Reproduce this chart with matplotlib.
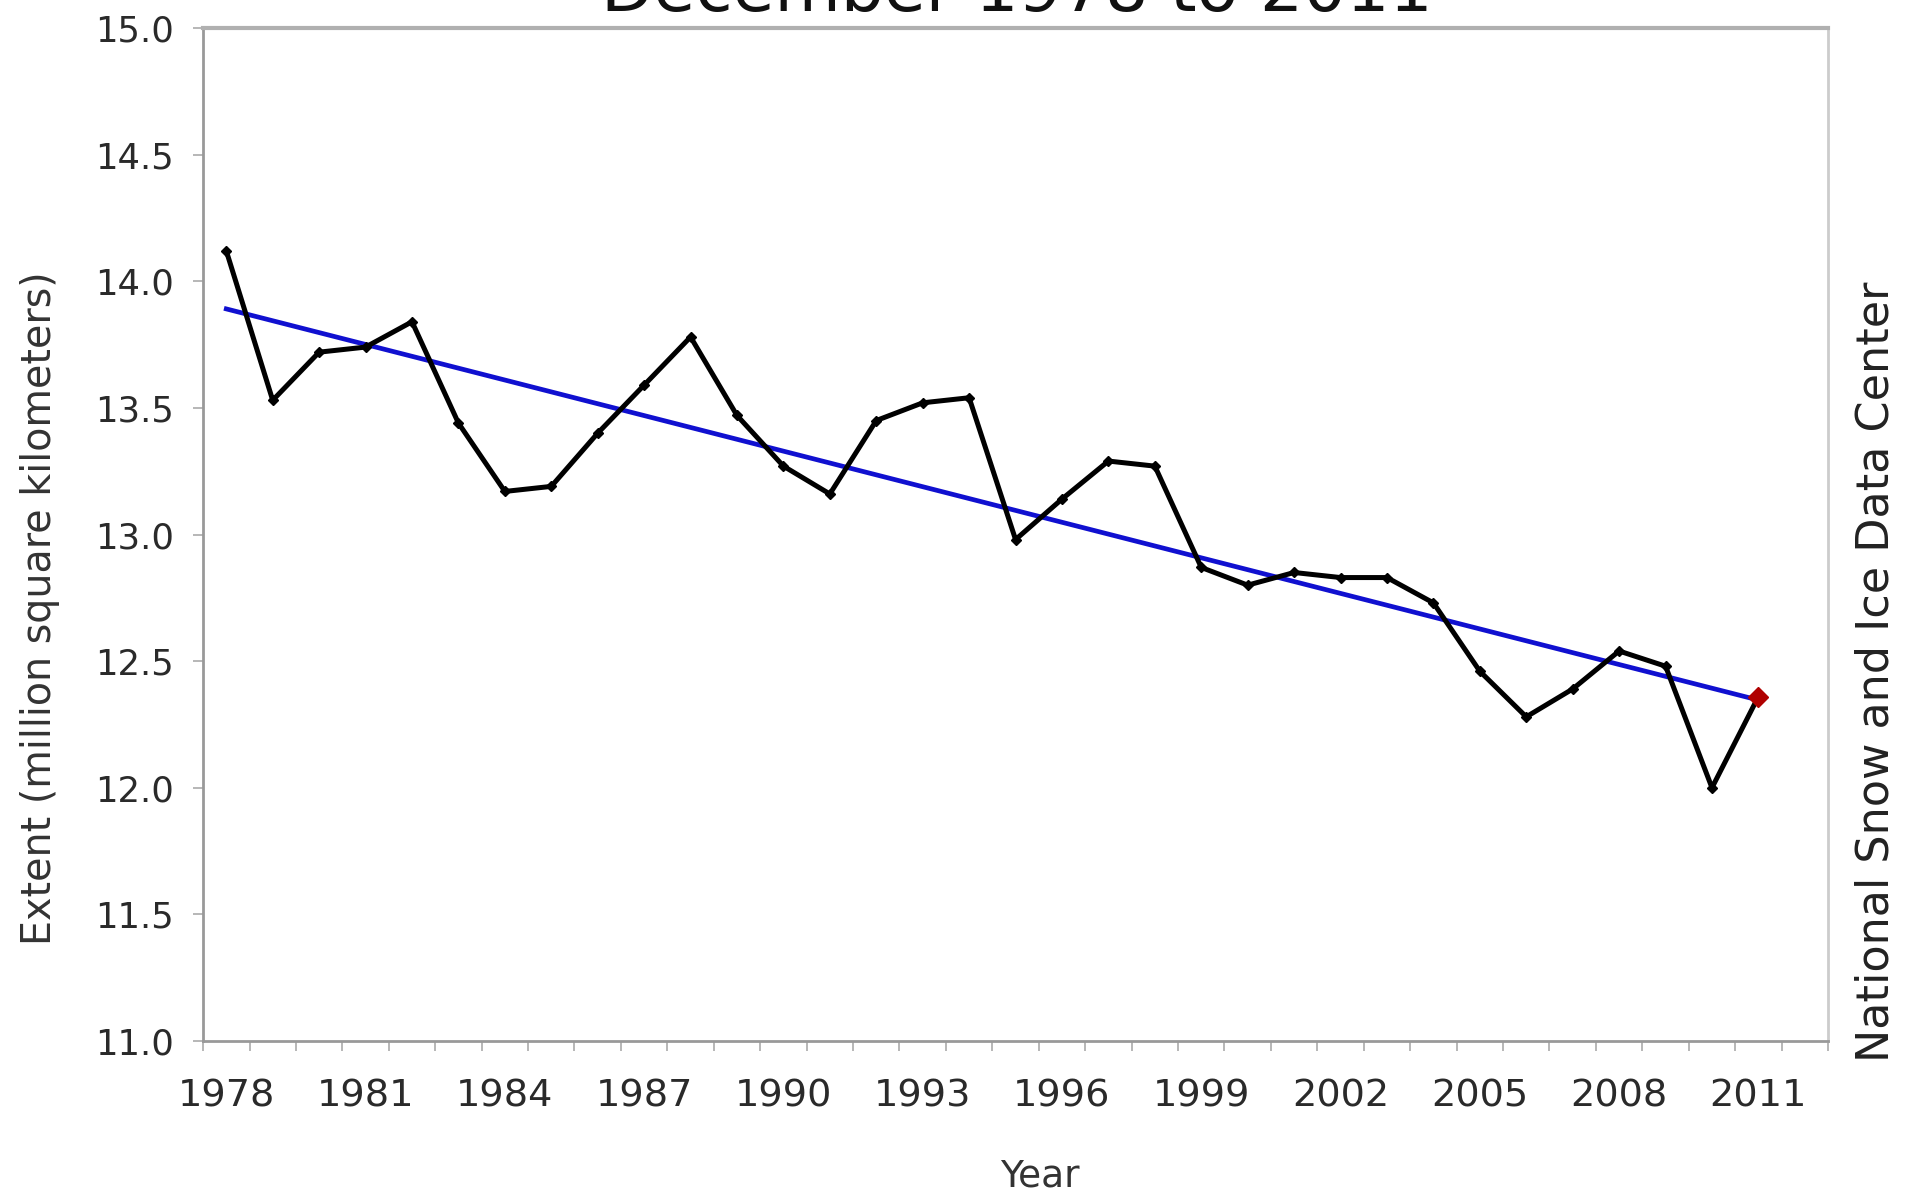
import numpy as np
import matplotlib.pyplot as plt

# December sea ice extent, million km^2
years = list(range(1978, 2012))
extent = [14.12, 13.53, 13.72, 13.74, 13.84, 13.44, 13.17, 13.19, 13.40, 13.59,
          13.78, 13.47, 13.27, 13.16, 13.45, 13.52, 13.54, 12.98, 13.14, 13.29,
          13.27, 12.87, 12.80, 12.85, 12.83, 12.83, 12.73, 12.46, 12.28, 12.39,
          12.54, 12.48, 12.00, 12.36]
tick_years = list(range(1978, 2012, 3))
y_ticks = [11.0, 11.5, 12.0, 12.5, 13.0, 13.5, 14.0, 14.5, 15.0]

plt.rcParams['font.family'] = ['DejaVu Sans']

fig = plt.figure(figsize=(19.05, 12.01), dpi=100)
ax = fig.add_axes([0.1066, 0.1332, 0.853, 0.8435])

x = np.array(years)
y = np.array(extent)

# linear trend over the whole record
k, b = np.polyfit(x, y, 1)
ax.plot(x, k * x + b, color='#1010d0', lw=3.4, zorder=2)

ax.plot(x, y, color='black', lw=3.6, marker='D', ms=5.5, zorder=3)
ax.plot(x[-1], y[-1], marker='D', ms=10, color='#b00000', zorder=4)

ax.set_xlim(1977.5, 2012.5)
ax.set_ylim(11.0, 15.0)
ax.set_xticks(tick_years)
ax.set_xticklabels([str(t) for t in tick_years])
ax.set_xticks(np.arange(1977.5, 2012.6, 1.0), minor=True)
ax.set_yticks(y_ticks)
ax.set_yticklabels(['%.1f' % v for v in y_ticks])

ax.tick_params(axis='x', which='major', length=0, pad=27, labelsize=27.5,
               labelcolor='#2a2a2a')
ax.tick_params(axis='x', which='minor', length=7, width=1.2, color='#aaaaaa',
               direction='out')
ax.tick_params(axis='y', length=7, width=1.2, color='#aaaaaa', pad=14,
               labelsize=25.5, labelcolor='#2a2a2a')

for side in ['left', 'bottom']:
    ax.spines[side].set_color('#999999')
    ax.spines[side].set_linewidth(2.0)
ax.spines['top'].set_color('#b0b0b0')
ax.spines['top'].set_linewidth(3.0)
ax.spines['right'].set_color('#cccccc')
ax.spines['right'].set_linewidth(2.0)

fig.text(0.534, 0.991, 'December 1978 to 2011', fontsize=49, ha='center',
         va='baseline', color='#111111')
fig.text(0.021, 0.494, 'Extent (million square kilometers)', fontsize=28.5,
         rotation=90, ha='center', va='center', color='#333333')
fig.text(0.546, 0.02, 'Year', fontsize=27, ha='center', va='center',
         color='#333333')
fig.text(0.985, 0.441, 'National Snow and Ice Data Center', fontsize=32,
         rotation=90, ha='center', va='center', color='#222222')

fig.savefig('out.png', dpi=100, facecolor='white')
